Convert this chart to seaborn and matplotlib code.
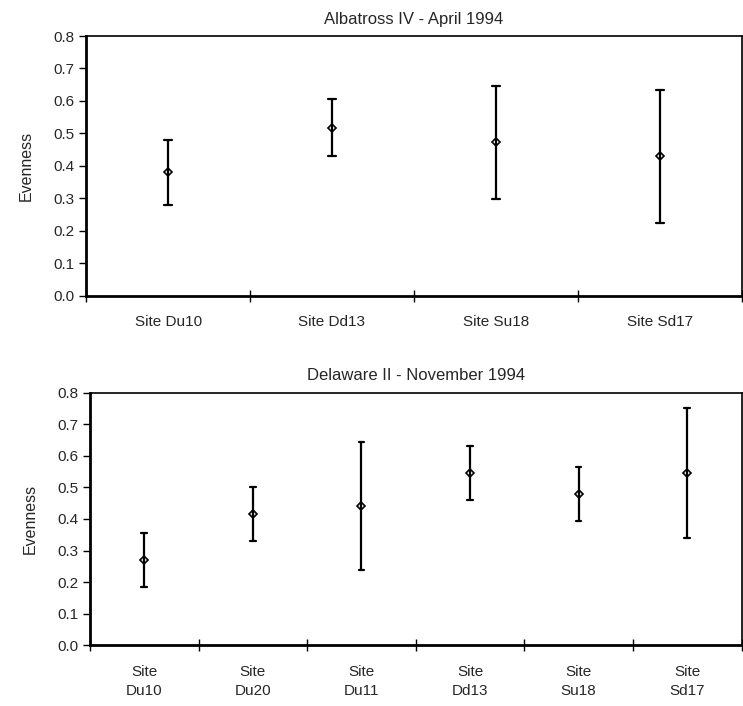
import pandas as pd
import matplotlib.pyplot as plt
import seaborn as sns

sns.set_theme(style="white")
plt.rcParams['font.family'] = ['Liberation Sans', 'DejaVu Sans']

# Albatross IV - April 1994
sites_apr = ['Site Du10', 'Site Dd13', 'Site Su18', 'Site Sd17']
mean_apr = [0.38, 0.518, 0.474, 0.431]
low_apr = [0.28, 0.43, 0.298, 0.225]
high_apr = [0.48, 0.605, 0.645, 0.633]

# Delaware II - November 1994
sites_nov = ['Site\nDu10', 'Site\nDu20', 'Site\nDu11', 'Site\nDd13', 'Site\nSu18', 'Site\nSd17']
mean_nov = [0.269, 0.415, 0.441, 0.546, 0.479, 0.546]
low_nov = [0.184, 0.329, 0.237, 0.46, 0.393, 0.341]
high_nov = [0.355, 0.5, 0.643, 0.632, 0.563, 0.75]


def long_form(sites, low, mean, high):
    rows = []
    for s, lo, m, hi in zip(sites, low, mean, high):
        for v in (lo, m, hi):
            rows.append({'site': s, 'value': v})
    return pd.DataFrame(rows)


def painel(ax, sites, low, mean, high, titulo, pad_x):
    df = long_form(sites, low, mean, high)
    sns.pointplot(data=df, x='site', y='value', order=sites, estimator='median',
                  errorbar=('pi', 100), linestyle='none', color='black',
                  marker='D', markersize=4, markerfacecolor='white',
                  markeredgecolor='black', markeredgewidth=1.2,
                  err_kws={'linewidth': 1.6}, capsize=0.05, ax=ax)
    n = len(sites)
    ax.set_xlim(-0.5, n - 0.5)
    ax.set_ylim(0, 0.8)
    ax.set_yticks([i / 10 for i in range(9)])
    ax.set_yticklabels([f'{i / 10:.1f}' for i in range(9)])
    ax.set_xticks(range(n))
    ax.set_xticklabels(sites, linespacing=1.5)
    ax.set_xticks([i + 0.5 for i in range(-1, n)], minor=True)
    ax.tick_params(axis='x', which='major', length=0, pad=pad_x, labelsize=11)
    ax.tick_params(axis='x', which='minor', direction='inout', length=8, width=1, color='black', bottom=True)
    ax.tick_params(axis='y', direction='out', length=5, width=1, color='black', left=True, labelsize=11)
    for sp in ax.spines.values():
        sp.set_color('black')
        sp.set_linewidth(1.2)
    ax.spines['left'].set_linewidth(2)
    ax.spines['bottom'].set_linewidth(2)
    ax.set_xlabel('')
    ax.set_ylabel('Evenness', fontsize=11.5, labelpad=14)
    ax.set_title(titulo, fontsize=12, pad=9)


fig = plt.figure(figsize=(7.43, 7.06), dpi=100)
ax1 = fig.add_axes([0.116, 0.581, 0.882, 0.368])
ax2 = fig.add_axes([0.121, 0.086, 0.877, 0.358])

painel(ax1, sites_apr, low_apr, mean_apr, high_apr, 'Albatross IV - April 1994', 14)
painel(ax2, sites_nov, low_nov, mean_nov, high_nov, 'Delaware II - November 1994', 14)

fig.savefig('out.png', dpi=100)
plt.close(fig)
